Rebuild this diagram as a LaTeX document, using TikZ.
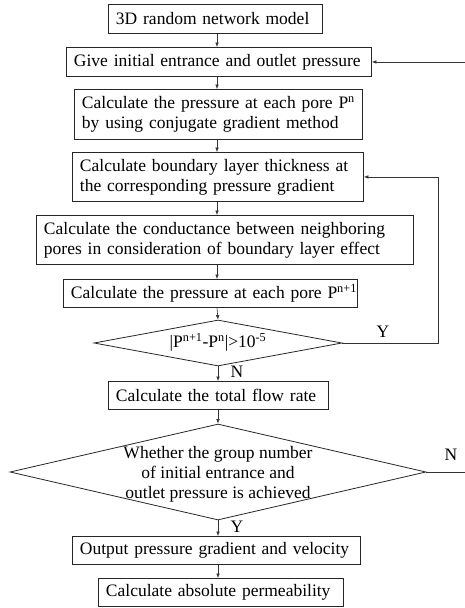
\documentclass[tikz,border=0pt]{standalone}
\usepackage{fontspec}
\setmainfont{Liberation Serif}
\usetikzlibrary{arrows.meta,shapes.geometric}
\begin{document}
\begin{tikzpicture}[x=1pt,y=-1pt,
  font=\fontsize{17.5}{20}\selectfont,
  stepbox/.style={draw=black!85,line width=0.9pt,anchor=north west,
    inner xsep=7.5pt,inner ysep=1pt,align=left},
  decision/.style={draw=black!85,line width=0.8pt,diamond,inner sep=0pt},
  arr/.style={draw=black!80,line width=0.6pt,-{Latex[length=4.5pt,width=3.6pt]}},
  link/.style={draw=black!80,line width=0.6pt},
  tag/.style={inner sep=0pt}]
\useasboundingbox (0,0) rectangle (465,608);
\coordinate (axis) at (217,0);

% process steps (each line kept whole)
\node[stepbox,text width=199pt,minimum height=29pt] (b1) at (108,4) {\mbox{3D random network model}};
\node[stepbox,text width=290pt,minimum height=29pt] (b2) at (66,47) {\mbox{Give initial entrance and outlet pressure}};
\node[stepbox,text width=273pt,minimum height=50pt] (b3) at (74,89)
  {\mbox{Calculate the pressure at each pore P\textsuperscript{n}}\\\mbox{by using conjugate gradient method}};
\node[stepbox,text width=276pt,minimum height=49pt] (b4) at (72,152)
  {\mbox{Calculate boundary layer thickness at}\\\mbox{the corresponding pressure gradient}};
\node[stepbox,text width=362pt,minimum height=49pt] (b5) at (36,215)
  {\mbox{Calculate the conductance between neighboring}\\\mbox{pores in consideration of boundary layer effect}};
\node[stepbox,text width=279pt,minimum height=28pt] (b6) at (63,279)
  {\mbox{Calculate the pressure at each pore P\textsuperscript{n+1}}};
\node[decision,minimum width=248pt,minimum height=46pt] (d1) at (218,343) {};
\node[tag] (d1t) at (218,342) {|P\textsuperscript{n+1}-P\textsuperscript{n}|>10\textsuperscript{-5}};
\node[stepbox,text width=205pt,minimum height=28pt] (b7) at (108,381) {\mbox{Calculate the total flow rate}};
\node[decision,minimum width=416pt,minimum height=96pt] (d2) at (218,472) {};
\node[tag,align=center] (d2t) at (218,474)
  {Whether the group number\\of initial entrance and\\outlet pressure is achieved};
\node[stepbox,text width=273pt,minimum height=28pt] (b8) at (72,536) {\mbox{Output pressure gradient and velocity}};
\node[stepbox,text width=230pt,minimum height=28pt] (b9) at (98,578) {\mbox{Calculate absolute permeability}};

% main flow
\draw[arr] (b1.south -| axis) -- (b2.north -| axis);
\draw[arr] (b2.south -| axis) -- (b3.north -| axis);
\draw[arr] (b3.south -| axis) -- (b4.north -| axis);
\draw[arr] (b4.south -| axis) -- (b5.north -| axis);
\draw[arr] (b5.south -| axis) -- (b6.north -| axis);
\draw[arr] (b6.south -| axis) -- (d1.north);
\draw[arr] (d1.south) -- (b7.north -| d1.south);
\draw[arr] (b7.south -| d1.south) -- (d2.north);
\draw[arr] (d2.south) -- (b8.north -| d2.south);
\draw[arr] (b8.south -| d2.south) -- (b9.north -| d2.south);

% feedback loops
\coordinate (loopx) at (438,0);
\draw[arr] (d1.east) -- (d1.east -| loopx) |- (b4.east);
\coordinate (edge) at (465,0);
\draw[arr] (b2.east -| edge) -- (b2.east);
\draw[link] (d2.east) -- (d2.east -| edge);

% branch labels
\node[tag] (ly1) at (383,332) {Y};
\node[tag] (ln1) at (237,372) {N};
\node[tag] (ln2) at (451,455) {N};
\node[tag] (ly2) at (237,527) {Y};
\end{tikzpicture}
\end{document}
